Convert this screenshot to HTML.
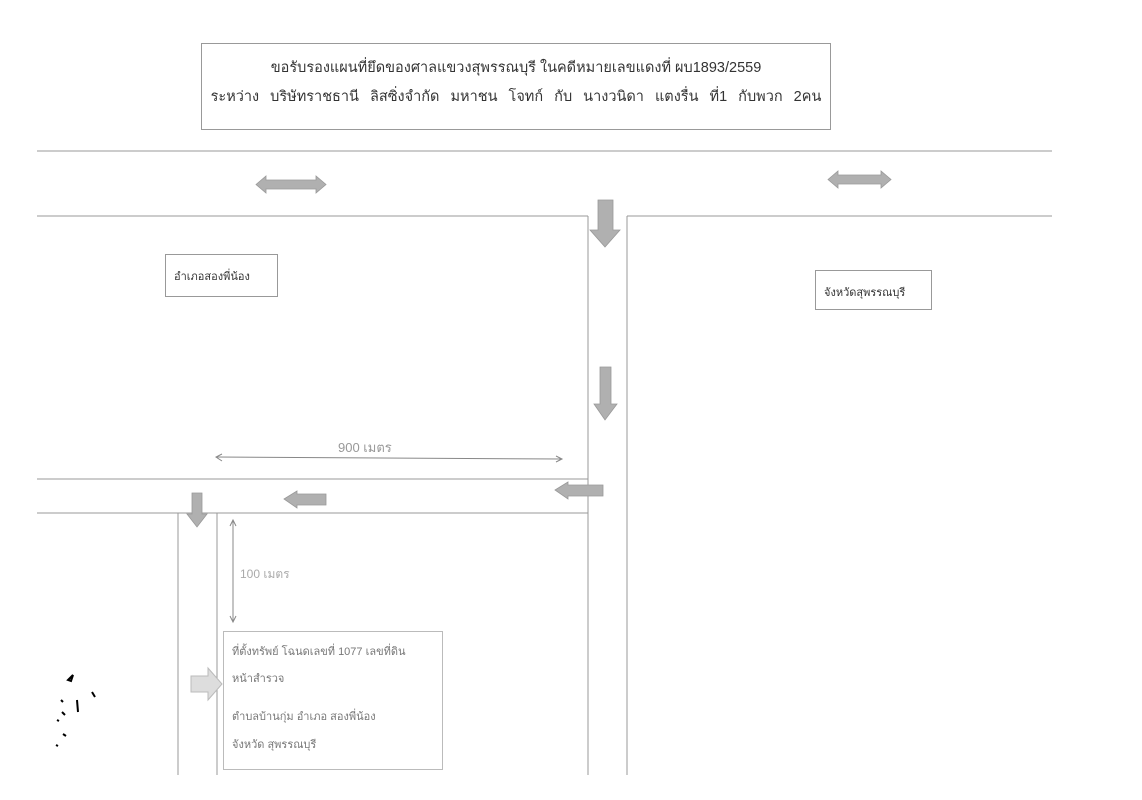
<!DOCTYPE html>
<html><head><meta charset="utf-8"><style>
body{margin:0;background:#fff;width:1142px;height:800px;overflow:hidden;position:relative;font-family:"Liberation Sans","DejaVu Sans",sans-serif;}
.box{position:absolute;border:1px solid #999;background:#fff;color:#333;box-sizing:border-box;}
.t{position:absolute;white-space:nowrap;}
</style></head><body>
<svg width="1142" height="800" style="position:absolute;left:0;top:0">
<g stroke="#999" stroke-width="1" fill="none">
<line x1="37" y1="151" x2="1052" y2="151"/>
<line x1="37" y1="216" x2="588" y2="216"/>
<line x1="627" y1="216" x2="1052" y2="216"/>
<line x1="588" y1="216" x2="588" y2="775"/>
<line x1="627" y1="216" x2="627" y2="775"/>
<line x1="37" y1="479" x2="588" y2="479"/>
<line x1="37" y1="513" x2="588" y2="513"/>
<line x1="178" y1="513" x2="178" y2="775"/>
<line x1="217" y1="513" x2="217" y2="775"/>
</g>
<g stroke="#888" stroke-width="1" fill="none">
<line x1="216" y1="457" x2="562" y2="459"/>
<polyline points="222,454 216,457 222,461"/>
<polyline points="556,456 562,459 556,462"/>
<line x1="233" y1="520" x2="233" y2="622"/>
<polyline points="230,526 233,520 236,526"/>
<polyline points="230,616 233,622 236,616"/>
</g>
<g fill="#b0b0b0" stroke="#999" stroke-width="0.8">
<polygon points="256,184.5 266,176 266,180 316,180 316,176 326,184.5 316,193 316,189 266,189 266,193"/>
<polygon points="828,179.5 838,171 838,175 881,175 881,171 891,179.5 881,188 881,184 838,184 838,188"/>
<polygon points="598,200 613,200 613,230 620,230 605,247 590,230 598,230"/>
<polygon points="600,367 611,367 611,404 617,404 605,420 594,404 600,404"/>
<polygon points="555,490 568,482 568,485 603,485 603,496 568,496 568,499"/>
<polygon points="284,499 297,491 297,494 326,494 326,505 297,505 297,508"/>
<polygon points="192,493 202,493 202,514 207,514 197,527 187,514 192,514"/>
</g>
<polygon points="191,676 208,676 208,668 222,684 208,700 208,692 191,692" fill="#ddd" stroke="#bbb"/>
<path d="M68 680 l5 -5 l-2 6z M92 692 l3 5 M77 700 l1 12 M61 700 l2 2 M62 712 l3 3 M57 720 l2 1 M63 734 l3 2 M56 745 l2 1" stroke="#000" stroke-width="2" fill="none"/>
</svg>
<div class="box" style="left:201px;top:43px;width:630px;height:87px;font-size:14.5px;">
<div class="t" style="left:0;right:0;top:12px;text-align:center;">ขอรับรองแผนที่ยึดของศาลแขวงสุพรรณบุรี ในคดีหมายเลขแดงที่ ผบ1893/2559</div>
<div class="t" style="left:0;right:0;top:41px;text-align:center;word-spacing:7px;">ระหว่าง บริษัทราชธานี ลิสซิ่งจำกัด มหาชน โจทก์ กับ นางวนิดา แตงรื่น ที่1 กับพวก 2คน</div>
</div>
<div class="box" style="left:165px;top:254px;width:113px;height:43px;font-size:11px;"><div class="t" style="left:8px;top:12px;">อำเภอสองพี่น้อง</div></div>
<div class="box" style="left:815px;top:270px;width:117px;height:40px;font-size:11px;"><div class="t" style="left:8px;top:12px;">จังหวัดสุพรรณบุรี</div></div>
<div class="box" style="left:223px;top:631px;width:220px;height:139px;font-size:11px;color:#777;border-color:#bbb;">
<div class="t" style="left:8px;top:10px;">ที่ตั้งทรัพย์ โฉนดเลขที่ 1077 เลขที่ดิน</div>
<div class="t" style="left:8px;top:37px;">หน้าสำรวจ</div>
<div class="t" style="left:8px;top:75px;">ตำบลบ้านกุ่ม อำเภอ สองพี่น้อง</div>
<div class="t" style="left:8px;top:103px;">จังหวัด สุพรรณบุรี</div>
</div>
<div class="t" style="left:338px;top:437px;font-size:13px;color:#999;">900 เมตร</div>
<div class="t" style="left:240px;top:565px;font-size:12px;color:#aaa;">100 เมตร</div>
</body></html>
